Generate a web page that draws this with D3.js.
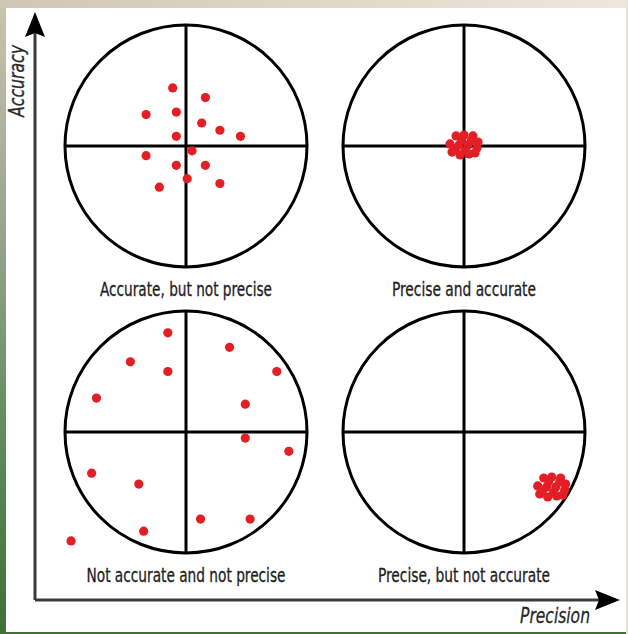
<!DOCTYPE html>
<html>
<head>
<meta charset="utf-8">
<script src="https://cdn.jsdelivr.net/npm/d3@7"></script>
<style>
  html, body { margin: 0; padding: 0; background: #ffffff; }
  svg { display: block; }
</style>
</head>
<body>
<script>
// panel grid: precision along x, accuracy along y
var precisionCols = ["low", "high"];
var accuracyRows = ["high", "low"];

var panelLabels = [
    {col: "low",  row: "high", text: "Accurate, but not precise", len: 172},
    {col: "high", row: "high", text: "Precise and accurate", len: 144},
    {col: "low",  row: "low",  text: "Not accurate and not precise", len: 199},
    {col: "high", row: "low",  text: "Precise, but not accurate", len: 172}
];

// shots, in target units (-1..1 from centre, y up)
var accurateNotPrecise = [
    [-0.11, 0.48], [0.16, 0.40], [-0.33, 0.26], [-0.08, 0.28], [0.13, 0.19],
    [0.28, 0.13], [0.45, 0.08], [-0.08, 0.08], [-0.33, -0.08], [0.05, -0.04],
    [-0.08, -0.16], [0.16, -0.16], [0.01, -0.27], [0.28, -0.31], [-0.22, -0.34]
];
var preciseAccurate = [
    [-0.066, 0.083], [0.0, 0.091], [0.074, 0.083], [0.116, 0.033],
    [-0.116, 0.017], [-0.041, 0.008], [0.033, 0.008], [0.107, -0.017],
    [-0.099, -0.050], [-0.033, -0.074], [0.041, -0.066], [0.091, -0.058],
    [-0.020, 0.050], [0.060, 0.045], [-0.070, -0.020], [0.010, -0.040]
];
var notAccurateNotPrecise = [
    [-0.15, 0.82], [0.36, 0.70], [-0.46, 0.58], [-0.15, 0.50], [0.75, 0.50],
    [-0.74, 0.28], [0.49, 0.23], [0.49, -0.05], [0.85, -0.16], [-0.78, -0.34],
    [-0.39, -0.43], [0.12, -0.72], [0.53, -0.72], [-0.35, -0.82], [-0.95, -0.90]
];
var preciseNotAccurate = [
    [0.659, -0.380], [0.725, -0.372], [0.799, -0.380], [0.840, -0.430],
    [0.609, -0.446], [0.683, -0.455], [0.758, -0.455], [0.832, -0.479],
    [0.626, -0.512], [0.692, -0.537], [0.766, -0.529], [0.816, -0.521],
    [0.700, -0.410], [0.790, -0.415], [0.650, -0.480], [0.740, -0.500]
];

var shots = [
    {col: "low",  row: "high", pts: accurateNotPrecise},
    {col: "high", row: "high", pts: preciseAccurate},
    {col: "low",  row: "low",  pts: notAccurateNotPrecise},
    {col: "high", row: "low",  pts: preciseNotAccurate}
];

var width = 628;
var height = 634;
var radius = 121;

var svg = d3.select("body")
    .append("svg")
    .attr("width", width)
    .attr("height", height);

var defs = svg.append("defs");
var sideGrad = defs.append("linearGradient")
    .attr("id", "side").attr("x1", 0).attr("y1", 0).attr("x2", 0).attr("y2", 1);
sideGrad.append("stop").attr("offset", "0%").attr("stop-color", "#cbc3ae");
sideGrad.append("stop").attr("offset", "35%").attr("stop-color", "#9aa592");
sideGrad.append("stop").attr("offset", "70%").attr("stop-color", "#5f8a5c");
sideGrad.append("stop").attr("offset", "100%").attr("stop-color", "#3f7035");
var topGrad = defs.append("linearGradient")
    .attr("id", "topband").attr("x1", 0).attr("y1", 0).attr("x2", 1).attr("y2", 0);
topGrad.append("stop").attr("offset", "0%").attr("stop-color", "#cfc7b3");
topGrad.append("stop").attr("offset", "100%").attr("stop-color", "#eee8dc");

// photo-ish backdrop and white sheet
svg.append("rect").attr("width", width).attr("height", height).attr("fill", "url(#side)");
svg.append("rect").attr("width", width).attr("height", 8).attr("fill", "url(#topband)");
svg.append("rect").attr("x", 626).attr("y", 0).attr("width", 2).attr("height", height).attr("fill", "#e9e4da");
svg.append("rect")
    .attr("x", 6).attr("y", 8)
    .attr("width", 620).attr("height", 624)
    .attr("fill", "#ffffff");

var xCol = d3.scalePoint().domain(precisionCols).range([186, 464]);
var yRow = d3.scalePoint().domain(accuracyRows).range([146, 432]);

var targets = svg.append("g");

shots.forEach(function(s) {
    var cx = xCol(s.col), cy = yRow(s.row);
    var x = d3.scaleLinear().domain([-1, 1]).range([cx - radius, cx + radius]);
    var y = d3.scaleLinear().domain([-1, 1]).range([cy + radius, cy - radius]);
    var g = targets.append("g");

    g.append("circle")
        .attr("cx", x(0)).attr("cy", y(0))
        .attr("r", radius)
        .attr("fill", "none")
        .attr("stroke", "#000")
        .attr("stroke-width", 3);
    g.append("line")
        .attr("x1", x(0)).attr("x2", x(0))
        .attr("y1", y(1)).attr("y2", y(-1))
        .attr("stroke", "#000").attr("stroke-width", 3);
    g.append("line")
        .attr("x1", x(-1)).attr("x2", x(1))
        .attr("y1", y(0)).attr("y2", y(0))
        .attr("stroke", "#000").attr("stroke-width", 3);

    g.selectAll(".shot")
        .data(s.pts)
        .enter()
        .append("circle")
        .attr("class", "shot")
        .attr("cx", function(d) { return x(d[0]); })
        .attr("cy", function(d) { return y(d[1]); })
        .attr("r", 4.6)
        .attr("fill", "#e41e25");
});

var labelFont = "'Liberation Sans Narrow', 'DejaVu Sans Condensed', 'Roboto', sans-serif";

svg.append("g")
    .selectAll("text")
    .data(panelLabels)
    .enter()
    .append("text")
    .attr("x", function(d) { return xCol(d.col); })
    .attr("y", function(d) { return yRow(d.row) + 150; })
    .attr("text-anchor", "middle")
    .attr("textLength", function(d) { return d.len; })
    .attr("lengthAdjust", "spacingAndGlyphs")
    .style("font-family", labelFont)
    .style("font-size", "19px")
    .attr("fill", "#1e1e1e")
    .attr("stroke", "#1e1e1e")
    .attr("stroke-width", 0.3)
    .text(function(d) { return d.text; });

// axes with arrowheads
var axes = svg.append("g");
axes.append("line")
    .attr("x1", 35).attr("y1", 600).attr("x2", 35).attr("y2", 30)
    .attr("stroke", "#3a3a3a").attr("stroke-width", 3);
axes.append("line")
    .attr("x1", 35).attr("y1", 600).attr("x2", 603).attr("y2", 600)
    .attr("stroke", "#3a3a3a").attr("stroke-width", 3);
axes.append("path")
    .attr("d", "M35,12 L45,37 L35,33 L25,37 Z")
    .attr("fill", "#000");
axes.append("path")
    .attr("d", "M620,600 L595,610 L599,600 L595,590 Z")
    .attr("fill", "#000");

axes.append("text")
    .attr("transform", "translate(24,81) rotate(-90)")
    .attr("text-anchor", "middle")
    .attr("textLength", 72)
    .attr("lengthAdjust", "spacingAndGlyphs")
    .style("font-family", labelFont)
    .style("font-size", "22px")
    .style("font-style", "italic")
    .attr("fill", "#2a2a2a")
    .attr("stroke", "#2a2a2a")
    .attr("stroke-width", 0.3)
    .text("Accuracy");
axes.append("text")
    .attr("x", 555).attr("y", 623)
    .attr("text-anchor", "middle")
    .attr("textLength", 70)
    .attr("lengthAdjust", "spacingAndGlyphs")
    .style("font-family", labelFont)
    .style("font-size", "22px")
    .style("font-style", "italic")
    .attr("fill", "#2a2a2a")
    .attr("stroke", "#2a2a2a")
    .attr("stroke-width", 0.3)
    .text("Precision");
</script>
</body>
</html>
